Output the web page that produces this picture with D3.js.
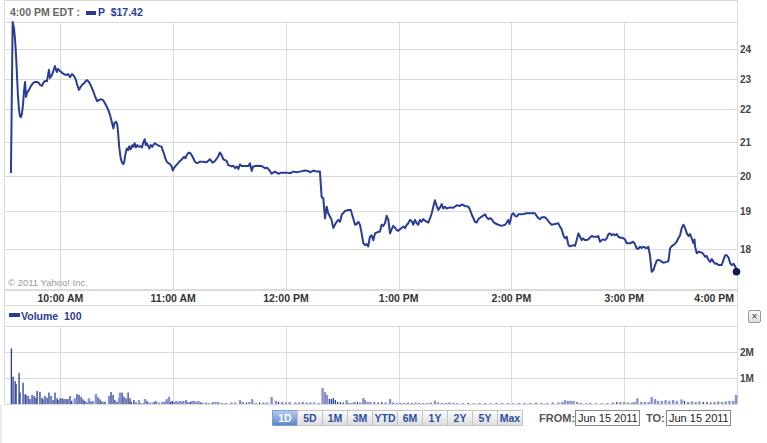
<!DOCTYPE html>
<html><head><meta charset="utf-8">
<script src="https://cdn.jsdelivr.net/npm/d3@7/dist/d3.min.js"></script>
<style>
html,body{margin:0;padding:0;background:#fff;}
svg{display:block;font-family:"Liberation Sans",Arial,sans-serif;}
</style></head><body>
<svg id="c" width="767" height="443"></svg>
<script>
// ---- DATA ----
const symbol = "P";
const lastTimeLabel = "4:00 PM EDT :";
const lastPrice = "$17.42";
const priceTicks = [18, 19, 20, 21, 22, 23, 24];
const hourTickLabels = ["10:00 AM", "11:00 AM", "12:00 PM", "1:00 PM", "2:00 PM", "3:00 PM", "4:00 PM"];
const hourTickMinutes = [30, 90, 150, 210, 270, 330, 390]; // minutes after 9:30
const volumeTicks = [1, 2];          // millions
const volumeTickLabels = ["1M", "2M"];
const rangeButtons = ["1D", "5D", "1M", "3M", "YTD", "6M", "1Y", "2Y", "5Y", "Max"];
const dateFrom = "Jun 15 2011", dateTo = "Jun 15 2011";

// minutes after 9:30 AM
const priceMinutes = [3.7,4.6,5.3,5.9,6.4,6.9,7.4,8.0,8.5,9.0,9.6,10.1,10.6,11.2,11.7,12.2,13.3,14.4,15.4,16.5,17.6,18.6,19.2,20.2,20.8,21.8,22.9,23.9,24.5,25.5,26.1,27.1,27.7,28.2,28.7,29.8,30.9,31.9,33.0,34.1,35.1,36.2,37.2,38.3,38.8,39.9,40.4,41.5,42.6,43.6,44.2,45.2,46.3,47.4,48.4,49.5,50.5,51.6,52.7,53.7,54.5,55.5,
56.4,57.3,58.2,58.7,59.6,60.3,60.8,61.3,62.1,62.8,63.5,64.0,64.5,65.3,66.0,66.7,67.4,68.3,68.8,69.5,70.2,70.9,71.8,72.7,73.4,74.1,74.9,75.4,75.9,76.8,77.3,78.1,78.9,79.4,80.3,81.2,82.1,83.0,83.9,84.4,85.1,85.8,86.6,87.4,88.3,89.2,89.8,90.4,91.1,92.2,93.3,94.3,95.1,95.8,96.5,97.2,98.1,99.0,99.9,100.7,101.6,102.5,103.4,104.3,
106.0,107.8,109.6,111.0,112.3,114.0,114.9,115.8,116.7,118.5,119.3,121.1,122.0,122.9,123.8,124.7,125.6,126.5,128.2,130.0,130.9,131.8,132.6,134.4,137.1,138.9,140.1,141.5,142.4,144.2,145.9,147.7,150.4,152.2,153.9,155.7,157.5,160.1,161.9,162.8,164.6,166.4,168.1,169.0,169.9,170.8,171.7,172.5,173.4,174.3,175.2,176.1,177.0,177.9,178.8,179.7,181.4,183.2,184.5,185.5,186.8,187.7,188.5,189.4,190.3,191.2,192.1,193.0,193.8,194.7,195.6,196.5,197.4,199.1,200.0,
200.9,201.8,202.7,203.6,204.5,205.4,206.3,207.1,208.0,208.9,209.8,210.7,211.6,212.5,213.4,214.3,215.1,216.0,216.9,217.8,218.7,219.6,220.4,221.3,222.2,223.1,224.0,224.9,225.8,226.7,227.6,228.4,229.3,230.2,231.1,232.0,232.9,233.7,234.6,235.5,237.3,239.1,240.9,242.6,243.5,245.3,247.1,248.0,248.9,250.6,251.5,252.4,254.2,256.0,256.8,257.7,258.6,259.5,260.3,261.2,263.0,264.8,266.6,267.5,268.3,268.9,269.6,270.1,271.0,271.9,272.8,273.7,275.5,278.1,282.5,283.4,284.3,285.2,286.1,287.9,288.8,290.5,291.4,293.2,294.9,
295.8,296.7,297.6,298.5,299.4,300.3,301.2,302.9,303.8,304.7,305.6,306.5,307.4,308.2,309.1,310.9,311.8,312.7,313.6,315.4,316.2,317.1,318.0,318.9,319.8,320.7,321.6,322.4,323.3,324.2,325.1,326.0,326.9,327.8,329.5,330.4,331.3,333.1,334.8,335.7,336.6,337.5,338.4,339.3,340.1,341.9,342.8,343.7,344.6,345.5,346.4,347.3,348.2,349.1,350.8,352.6,353.5,354.4,355.2,356.1,357.0,357.9,358.8,359.7,360.6,361.5,362.4,363.3,364.2,365.0,365.9,366.8,367.4,367.7,368.6,369.5,371.2,372.1,373.0,373.9,374.8,375.7,376.6,377.5,378.4,379.2,380.1,381.9,382.8,383.7,384.6,385.5,386.4,387.3,388.2,389.1,390.0];
const priceValues = [20.08,24.95,24.74,24.31,23.79,23.12,22.47,21.98,21.79,21.76,21.89,22.14,22.56,22.89,22.40,22.53,22.63,22.76,22.85,22.89,22.89,22.85,22.79,22.76,22.85,22.92,22.92,23.29,23.02,23.12,23.22,23.42,23.29,23.22,23.32,23.25,23.19,23.15,23.12,23.15,23.05,23.15,23.09,22.95,22.82,22.63,22.69,22.79,22.85,22.92,22.95,22.89,22.76,22.60,22.43,22.27,22.30,22.33,22.30,22.20,22.11,21.98,
21.83,21.62,21.41,21.57,21.62,21.52,21.21,20.85,20.51,20.38,20.34,20.41,20.60,20.80,20.75,20.87,20.77,20.90,20.85,20.96,20.83,20.90,20.85,20.87,20.83,20.98,21.08,20.90,20.96,20.87,20.80,20.90,20.85,20.90,20.96,20.92,20.89,20.87,20.85,20.75,20.65,20.51,20.41,20.37,20.34,20.27,20.15,20.22,20.27,20.34,20.41,20.46,20.51,20.55,20.51,20.60,20.67,20.67,20.60,20.51,20.41,20.37,20.38,20.41,
20.41,20.39,20.48,20.38,20.43,20.57,20.68,20.60,20.48,20.43,20.31,20.27,20.29,20.22,20.27,20.20,20.33,20.28,20.28,20.28,20.36,20.14,20.27,20.29,20.28,20.22,20.23,20.14,20.06,20.12,20.06,20.09,20.09,20.07,20.12,20.10,20.12,20.15,20.14,20.10,20.15,20.12,20.12,19.40,19.36,18.81,19.13,18.95,18.86,18.77,18.55,18.64,18.72,18.77,18.72,18.91,19.01,19.04,19.04,18.86,18.64,18.66,18.72,18.64,18.41,18.15,18.10,18.13,18.07,18.32,18.36,18.23,18.41,18.45,18.45,
18.64,18.61,18.68,18.88,18.77,18.41,18.52,18.61,18.56,18.50,18.48,18.52,18.56,18.59,18.55,18.64,18.68,18.77,18.74,18.64,18.77,18.68,18.64,18.77,18.72,18.79,18.75,18.72,18.70,18.82,18.95,19.13,19.31,19.15,19.04,19.11,19.20,19.08,19.13,19.08,19.11,19.10,19.17,19.15,19.19,19.15,19.13,19.04,18.91,18.72,18.70,18.79,18.86,18.92,18.84,18.79,18.82,18.79,18.72,18.68,18.64,18.61,18.64,18.70,18.77,18.66,18.79,18.91,18.95,18.88,18.86,18.92,18.92,18.95,18.95,18.88,18.82,18.79,18.84,18.84,18.79,18.68,18.64,18.66,18.68,
18.59,18.52,18.36,18.28,18.32,18.10,18.07,18.10,18.08,18.23,18.41,18.32,18.23,18.28,18.23,18.25,18.30,18.34,18.32,18.32,18.34,18.19,18.23,18.25,18.23,18.28,18.39,18.41,18.36,18.39,18.36,18.39,18.32,18.30,18.28,18.25,18.15,18.15,18.19,18.13,18.02,18.00,18.06,18.03,18.06,18.02,18.06,17.84,17.42,17.46,17.59,17.70,17.72,17.70,17.65,17.67,17.69,18.02,18.07,18.10,18.14,18.19,18.28,18.36,18.55,18.64,18.55,18.41,18.34,18.39,18.28,18.15,18.25,18.06,17.89,17.93,17.91,17.87,17.80,17.82,17.72,17.67,17.74,17.67,17.62,17.63,17.59,17.59,17.72,17.84,17.84,17.78,17.63,17.59,17.62,17.55,17.42];

// volume bars: minute after 9:30, shares (millions), shade (d = dark, l = light)
const volMinutes = [3.9,4.8,5.9,6.4,8.0,8.5,10.1,11.2,11.7,12.8,13.8,14.9,16.0,17.0,17.6,19.1,20.2,20.7,21.8,22.9,23.9,25.0,26.1,27.1,28.2,28.7,29.8,30.9,31.9,33.0,34.0,35.1,36.0,37.6,38.8,39.9,41.0,42.0,42.9,44.0,45.2,46.3,47.3,48.9,50.0,51.1,52.1,52.7,53.7,55.9,56.9,58.0,59.0,60.1,61.2,61.7,62.8,63.8,64.9,66.0,67.0,67.7,69.1,70.2,71.8,72.9,74.5,75.0,76.1,77.5,79.1,80.1,80.8,82.3,84.2,85.3,86.2,86.7,87.8,88.7,89.5,90.6,91.7,92.7,93.8,94.9,95.4,96.8,98.0,99.1,100.2,101.2,102.3,103.4,104.4,105.5,
107.5,109,111,112.5,114,116,118,121,123,125.6,127,129,130.5,132.1,134,136,138,140,142.4,144.7,146,148,150,152,155,157,159,161,163,165,167.5,169.5,170.8,171.8,173.1,174.2,175.2,176.3,177.5,179,180.5,182.3,183.5,185,186.5,188,189.5,191.2,192.1,193.5,195,197,199,201,203,205.4,207,209,211,213,215,217,219,221,223,225,227,229.3,231,233,235,237,239,241,244,247,250,253,256,259,262,265,268,271,274,277,280,283,286,289,292,295,297,298.5,300,301.5,303,305,307,310,312,315,318,321,324,326,328,330,332,334,335.5,337,339,341,343,344.6,346.4,348,350,352,354,356,358,360.5,362,364,366,368,370,372,374,376,378,380,382,384,386,388,389.5];
const volValues = [2.14,1.05,0.88,0.77,1.20,0.44,0.82,0.38,0.35,0.31,0.19,0.35,0.31,0.24,0.50,0.47,0.24,0.18,0.31,0.24,0.44,0.31,0.15,0.44,0.22,0.15,0.22,0.22,0.19,0.19,0.19,0.31,0.12,0.22,0.38,0.35,0.28,0.18,0.12,0.08,0.22,0.10,0.12,0.38,0.26,0.18,0.10,0.08,0.08,0.31,0.46,0.35,0.15,0.08,0.22,0.44,0.44,0.28,0.22,0.44,0.22,0.08,0.15,0.06,0.15,0.04,0.04,0.19,0.12,0.06,0.06,0.08,0.12,0.06,0.08,0.08,0.12,0.19,0.28,0.08,0.12,0.08,0.12,0.08,0.12,0.08,0.12,0.15,0.08,0.08,0.12,0.12,0.08,0.12,0.06,0.06,
0.06,0.04,0.08,0.08,0.08,0.04,0.04,0.06,0.06,0.15,0.08,0.06,0.08,0.19,0.04,0.06,0.06,0.06,0.27,0.12,0.08,0.08,0.06,0.08,0.06,0.06,0.08,0.06,0.06,0.06,0.04,0.62,0.46,0.35,0.19,0.19,0.23,0.15,0.08,0.08,0.06,0.15,0.04,0.04,0.08,0.08,0.06,0.23,0.15,0.08,0.08,0.08,0.06,0.08,0.06,0.19,0.06,0.04,0.04,0.04,0.06,0.04,0.06,0.04,0.04,0.04,0.06,0.13,0.06,0.04,0.04,0.06,0.04,0.04,0.03,0.04,0.03,0.04,0.04,0.03,0.04,0.04,0.04,0.03,0.04,0.04,0.04,0.06,0.04,0.04,0.06,0.06,0.08,0.15,0.12,0.12,0.12,0.08,0.04,0.03,0.04,0.03,0.03,0.04,0.06,0.08,0.08,0.08,0.06,0.06,0.08,0.22,0.08,0.08,0.08,0.27,0.19,0.12,0.12,0.15,0.12,0.15,0.12,0.18,0.12,0.08,0.10,0.08,0.10,0.08,0.08,0.06,0.08,0.10,0.08,0.10,0.12,0.12,0.35];
const volShade = "dddddddddddddddddddddddddddddddddldddddlldlldddldldddddlddddddddlldldlldlllllllddlllllldldlllldll"
 + "lllllllllldllldlllldllllllllllllldddddddlllldllllllddllllllldllllllllllllldllllllllllllllllllllllllllllldlllllllllllllllllldlllldddllllllldlllllllllllllld";

// ---- LAYOUT ----
const svg = d3.select("#c");
const L = 4, R = 737, PT = 22, PB = 290, VT = 326, VB = 404;
const gridC = "#dadada", blue = "#2a3d96", dark = "#0d1b4f";
const t0 = new Date(2011, 5, 15, 9, 30);
const toDate = m => new Date(t0.getTime() + m * 60000);

const x = d3.scaleTime().domain([toDate(0), toDate(390)]).range([L, R]);
const y = d3.scaleLog().domain([16.97, 24.95]).range([PB, PT]);
const yv = d3.scaleLinear().domain([0, 3]).range([VB, VT]);

svg.append("rect").attr("width", 767).attr("height", 443).attr("fill", "#fff");
svg.append("rect").attr("x", 0).attr("y", 405).attr("width", 2).attr("height", 38).attr("fill", "#ececec");

// header
svg.append("text").attr("x", 10).attr("y", 16).attr("font-size", 10.5).attr("font-weight", "bold")
  .attr("fill", "#666").text(lastTimeLabel);
svg.append("rect").attr("x", 86).attr("y", 11).attr("width", 10).attr("height", 4).attr("fill", blue);
svg.append("text").attr("x", 98).attr("y", 16).attr("font-size", 10.5).attr("font-weight", "bold")
  .attr("fill", blue).text(symbol + "  " + lastPrice).style("white-space", "pre");

// price grid
const gP = svg.append("g");
gP.selectAll("line.h").data(priceTicks).join("line")
  .attr("x1", L).attr("x2", R).attr("y1", d => Math.round(y(d)) + 0.5).attr("y2", d => Math.round(y(d)) + 0.5)
  .attr("stroke", gridC);
gP.selectAll("line.v").data(hourTickMinutes.slice(0, -1)).join("line")
  .attr("x1", d => Math.round(x(toDate(d))) + 0.5).attr("x2", d => Math.round(x(toDate(d))) + 0.5)
  .attr("y1", PT).attr("y2", PB).attr("stroke", gridC);
gP.selectAll("text").data(priceTicks).join("text")
  .attr("x", 740).attr("y", d => y(d) + 4).attr("font-size", 10).attr("font-weight", "bold")
  .attr("fill", "#444").text(d => d);

// volume grid
const gV = svg.append("g");
gV.selectAll("line.h").data(volumeTicks).join("line")
  .attr("x1", L).attr("x2", R).attr("y1", d => Math.round(yv(d)) + 0.5).attr("y2", d => Math.round(yv(d)) + 0.5)
  .attr("stroke", gridC);
gV.selectAll("line.v").data(hourTickMinutes.slice(0, -1)).join("line")
  .attr("x1", d => Math.round(x(toDate(d))) + 0.5).attr("x2", d => Math.round(x(toDate(d))) + 0.5)
  .attr("y1", VT).attr("y2", VB).attr("stroke", gridC);
gV.selectAll("text").data(volumeTicks).join("text")
  .attr("x", 740).attr("y", d => yv(d) + 4).attr("font-size", 10).attr("font-weight", "bold")
  .attr("fill", "#444").text((d, i) => volumeTickLabels[i]);

// frame lines
const hl = (yy, x1, x2, w) => svg.append("line").attr("x1", x1).attr("x2", x2).attr("y1", yy).attr("y2", yy)
  .attr("stroke", gridC).attr("stroke-width", w || 1);
hl(0.5, L, R + 0.5); hl(PT + 0.5, L, R + 0.5); hl(PB, L, R + 0.5, 2); hl(305.5, L, R + 0.5); hl(VT + 0.5, L, R + 0.5); hl(VB + 0.5, L, R + 0.5);
svg.append("line").attr("x1", L + 0.5).attr("x2", L + 0.5).attr("y1", 0).attr("y2", VB + 1).attr("stroke", gridC);
svg.append("line").attr("x1", R + 0.5).attr("x2", R + 0.5).attr("y1", 0).attr("y2", VB + 1).attr("stroke", gridC);

// x axis labels
svg.selectAll("text.xl").data(hourTickMinutes).join("text").attr("class", "xl")
  .attr("x", d => x(toDate(d)) - (d === 390 ? 3 : 0)).attr("y", 301.5)
  .attr("text-anchor", d => d === 390 ? "end" : "middle")
  .attr("font-size", 10.5).attr("font-weight", "bold").attr("fill", "#333")
  .text((d, i) => hourTickLabels[i]);

// copyright
svg.append("text").attr("x", 8).attr("y", 285.5).attr("font-size", 9.5).attr("fill", "#999")
  .text("\u00A9 2011 Yahoo! Inc.");

// volume label
svg.append("rect").attr("x", 9).attr("y", 313).attr("width", 11).attr("height", 4).attr("fill", blue);
svg.append("text").attr("x", 21).attr("y", 320).attr("font-size", 10.5).attr("font-weight", "bold")
  .attr("fill", blue).text("Volume  100").style("white-space", "pre");

// close button
const cb = svg.append("g");
const grad0 = svg.append("defs");
const lg = grad0.append("linearGradient").attr("id", "btn").attr("x1", 0).attr("x2", 0).attr("y1", 0).attr("y2", 1);
lg.append("stop").attr("offset", 0).attr("stop-color", "#fdfdfd");
lg.append("stop").attr("offset", 1).attr("stop-color", "#dcdcdc");
const lg2 = grad0.append("linearGradient").attr("id", "btnSel").attr("x1", 0).attr("x2", 0).attr("y1", 0).attr("y2", 1);
lg2.append("stop").attr("offset", 0).attr("stop-color", "#b7cdee");
lg2.append("stop").attr("offset", 1).attr("stop-color", "#5a86cc");
cb.append("rect").attr("x", 748.5).attr("y", 310.5).attr("width", 12).attr("height", 12).attr("rx", 1.5)
  .attr("fill", "url(#btn)").attr("stroke", "#999");
cb.append("text").attr("x", 754.5).attr("y", 320).attr("text-anchor", "middle").attr("font-size", 10)
  .attr("fill", "#333").text("\u00D7");

// volume bars
const vols = volMinutes.map((m, i) => ({ t: toDate(m), v: volValues[i], s: volShade[i] }));
svg.append("g").selectAll("rect").data(vols).join("rect")
  .attr("x", d => x(d.t) - (d.s === "d" ? 0.6 : 1.2))
  .attr("width", d => d.s === "d" ? 1.3 : 2.4)
  .attr("y", d => yv(d.v)).attr("height", d => VB - yv(d.v))
  .attr("fill", d => d.s === "d" ? blue : "#8a92c9");

// price line
const pts = priceMinutes.map((m, i) => ({ t: toDate(m), p: priceValues[i] }));
svg.append("path").datum(pts)
  .attr("d", d3.line().x(d => x(d.t)).y(d => y(d.p)))
  .attr("fill", "none").attr("stroke", blue).attr("stroke-width", 2).attr("stroke-linejoin", "round");
const last = pts[pts.length - 1];
svg.append("circle").attr("cx", x(last.t) - 0.5).attr("cy", y(last.p)).attr("r", 3.8).attr("fill", dark);

// range buttons
const bg = svg.append("g");
rangeButtons.forEach((b, i) => {
  const bx = 272.5 + i * 25;
  bg.append("rect").attr("x", bx).attr("y", 410.5).attr("width", 25).attr("height", 15)
    .attr("fill", i === 0 ? "url(#btnSel)" : "url(#btn)").attr("stroke", i === 0 ? "#7f9fd3" : "#c4c4c4");
  bg.append("text").attr("x", bx + 12.5).attr("y", 422).attr("text-anchor", "middle")
    .attr("font-size", 10.5).attr("font-weight", "bold").attr("fill", i === 0 ? "#fff" : "#2b4ea6").text(b);
});

// date inputs
svg.append("text").attr("x", 539).attr("y", 422).attr("font-size", 11).attr("font-weight", "bold").attr("fill", "#555").text("FROM:");
svg.append("rect").attr("x", 575.5).attr("y", 410.5).attr("width", 64).attr("height", 15).attr("fill", "#fff").attr("stroke", "#888");
svg.append("text").attr("x", 578).attr("y", 422).attr("font-size", 11).attr("fill", "#222").text(dateFrom);
svg.append("text").attr("x", 646).attr("y", 422).attr("font-size", 11).attr("font-weight", "bold").attr("fill", "#555").text("TO:");
svg.append("rect").attr("x", 666.5).attr("y", 410.5).attr("width", 64).attr("height", 15).attr("fill", "#fff").attr("stroke", "#888");
svg.append("text").attr("x", 669).attr("y", 422).attr("font-size", 11).attr("fill", "#222").text(dateTo);
</script>
</body></html>
